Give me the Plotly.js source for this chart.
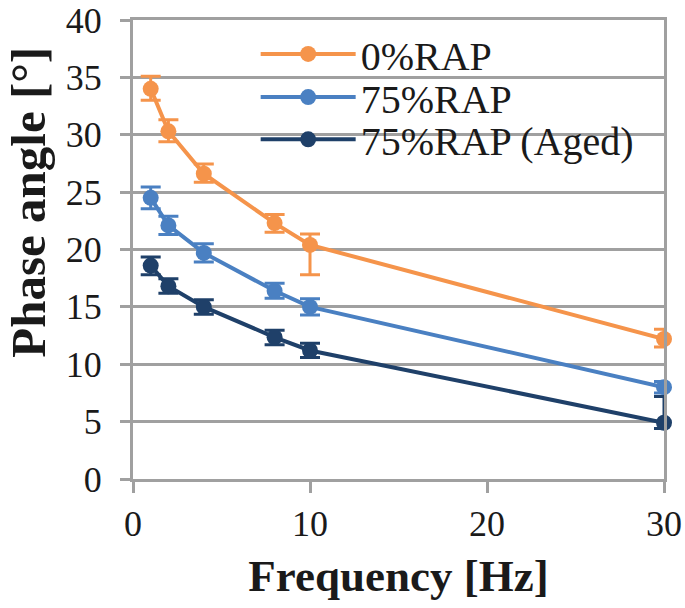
<!DOCTYPE html>
<html>
<head>
<meta charset="utf-8">
<script src="https://cdn.plot.ly/plotly-3.0.1.min.js"></script>
<style>html,body{margin:0;padding:0;background:#fff;}#chart{width:685px;height:608px;}</style>
</head>
<body>
<div id="chart"></div>
<script>
const frequency = [1, 2, 4, 8, 10, 30];
const seriesNames = ["0%RAP", "75%RAP", "75%RAP (Aged)"];
const rap0 = [34.0, 30.3, 26.6, 22.3, 20.4, 12.2];
const rap0ErrPlus = [1.1, 1.0, 0.85, 0.75, 0.95, 0.85];
const rap0ErrMinus = [1.0, 0.9, 0.75, 0.8, 2.6, 0.7];
const rap75 = [24.5, 22.1, 19.7, 16.4, 15.0, 8.0];
const rap75Err = [0.95, 0.8, 0.8, 0.65, 0.7, 0.5];
const rap75Aged = [18.6, 16.8, 15.0, 12.35, 11.2, 4.9];
const rap75AgedErrPlus = [0.75, 0.65, 0.62, 0.62, 0.62, 2.3];
const rap75AgedErrMinus = [0.8, 0.62, 0.65, 0.65, 0.62, 0.5];
const colors = ["#F5944B", "#4A80C2", "#1F4069"];

const font = "'Liberation Serif', 'Times New Roman', serif";
const legendIds = ["legend", "legend2", "legend3"];
const legendRowY = [0.926, 0.832, 0.740];

function trace(i, y, plus, minus) {
  return {
    x: frequency, y: y, name: seriesNames[i], type: "scatter", mode: "lines+markers",
    legend: legendIds[i], cliponaxis: false,
    line: {color: colors[i], width: 4},
    marker: {color: colors[i], size: 16},
    error_y: {type: "data", symmetric: false, array: plus, arrayminus: minus,
      color: colors[i], thickness: 3, width: 10}
  };
}

const data = [
  trace(0, rap0, rap0ErrPlus, rap0ErrMinus),
  trace(1, rap75, rap75Err, rap75Err),
  trace(2, rap75Aged, rap75AgedErrPlus, rap75AgedErrMinus)
];

function legendBox(i) {
  return {
    x: 0.231, y: legendRowY[i], xanchor: "left", yanchor: "middle",
    orientation: "h", entrywidth: 290, entrywidthmode: "pixels",
    bgcolor: "rgba(0,0,0,0)", font: {family: font, size: 40, color: "#1a1a1a"},
    itemwidth: 95
  };
}

const layout = {
  width: 685, height: 608,
  margin: {l: 133, r: 21, t: 20, b: 129},
  paper_bgcolor: "#fff", plot_bgcolor: "#fff",
  font: {family: font, color: "#1a1a1a"},
  showlegend: true,
  legend: legendBox(0), legend2: legendBox(1), legend3: legendBox(2),
  shapes: [{
    type: "rect", xref: "paper", yref: "paper",
    x0: 0.2298, x1: 0.964, y0: 0.684, y1: 0.989,
    fillcolor: "#fff", line: {width: 0}, layer: "between"
  }],
  xaxis: {
    range: [0, 30], tickvals: [0, 10, 20, 30], ticktext: ["0", "10", "20", "30"],
    showgrid: false, zeroline: false,
    showline: true, linecolor: "#A0A0A0", linewidth: 3, mirror: true,
    ticks: "outside", ticklen: 11, tickwidth: 3, tickcolor: "#A0A0A0",
    tickfont: {family: font, size: 36, color: "#1a1a1a"},
    ticklabelstandoff: 0,
    title: {text: "<b>Frequency [Hz]</b>", font: {family: font, size: 45, color: "#1a1a1a"}, standoff: 17}
  },
  yaxis: {
    range: [0, 40], dtick: 5, tick0: 0,
    showgrid: true, gridcolor: "#A0A0A0", gridwidth: 3, zeroline: false,
    showline: true, linecolor: "#A0A0A0", linewidth: 3, mirror: true,
    ticks: "outside", ticklen: 10, tickwidth: 3, tickcolor: "#A0A0A0",
    tickfont: {family: font, size: 36, color: "#1a1a1a"},
    ticklabelstandoff: 11
  },
  annotations: [{
    text: "<b>Phase angle [°]</b>", textangle: -90,
    xref: "paper", yref: "paper", x: -0.196, y: 0.604, xanchor: "center", yanchor: "middle",
    showarrow: false, font: {family: font, size: 49, color: "#1a1a1a"}
  }]
};

Plotly.newPlot("chart", data, layout, {displayModeBar: false, staticPlot: true});
</script>
</body>
</html>
